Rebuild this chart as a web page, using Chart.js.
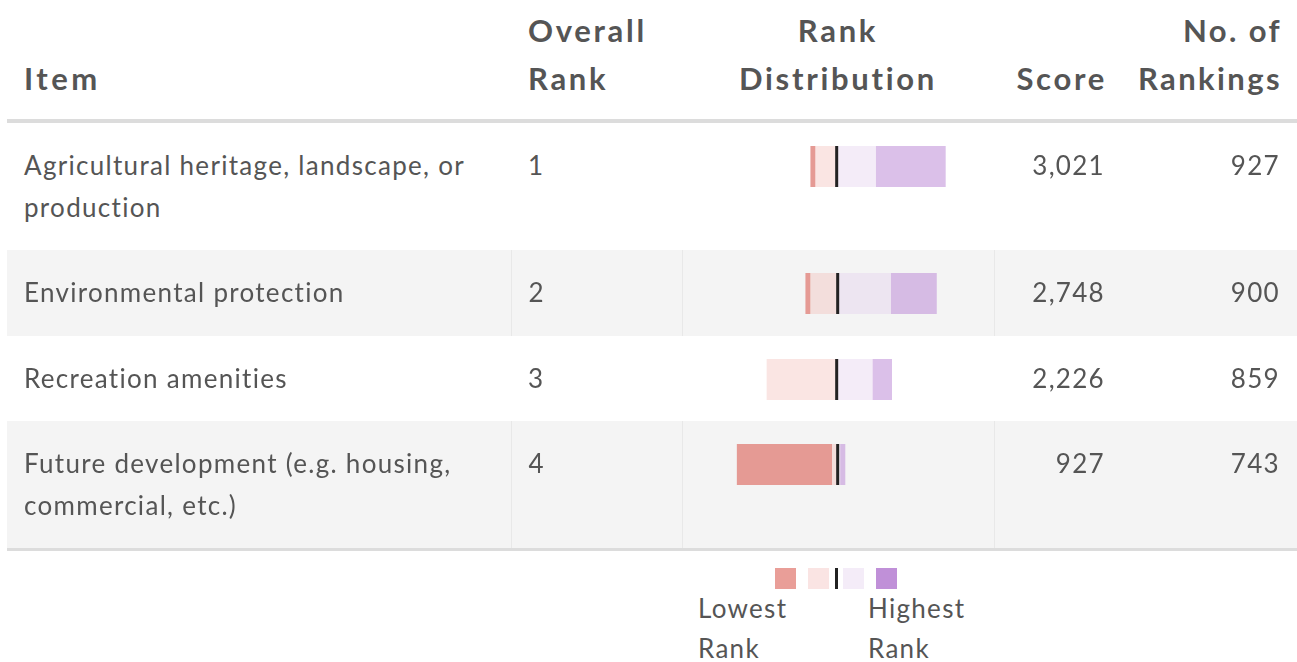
<!DOCTYPE html>
<html>
<head>
<meta charset="utf-8">
<script src="https://cdn.jsdelivr.net/npm/chart.js@4"></script>
<style>
  body { margin: 0; background: #fff; font-family: Lato, "Open Sans", sans-serif; color: #555; }
  table { position: absolute; left: 7px; top: 0; border-collapse: collapse; table-layout: fixed; width: 1290px; }
  th { font-weight: bold; font-size: 31px; line-height: 48px; letter-spacing: 2.7px; vertical-align: bottom;
       padding: 6px 17px 17px 17px; text-align: left; border-bottom: 4px solid #dcdcdc; }
  td { font-size: 26px; line-height: 41.5px; letter-spacing: 1.3px; vertical-align: top; padding: 22px 17px 22px 17px; }
  tr.alt td { background: #f4f4f4; border-left: 1px solid #e8e8e8; }
  tr.alt td:first-child, tr.alt td:last-child { border-left: none; }
  tbody tr:last-child td { border-bottom: 3px solid #dcdcdc; }
  .c { text-align: center; }
  .r { text-align: right; }
  td.dist { padding: 23px 0 0 0; }
  td.dist canvas { display: block; }
  #legend { position: absolute; left: 0; top: 568px; width: 1297px; height: 94px; }
  .sw { position: absolute; top: 0; width: 21px; height: 21px; }
  .lt { position: absolute; top: 20px; font-size: 26px; line-height: 40px; letter-spacing: 1.3px; color: #555; }
</style>
</head>
<body>
<table id="tbl">
  <colgroup>
    <col style="width:504px"><col style="width:171px"><col style="width:312px"><col style="width:127px"><col style="width:176px">
  </colgroup>
  <thead>
    <tr>
      <th style="letter-spacing:3.5px">Item</th>
      <th>Overall<br>Rank</th>
      <th class="c">Rank<br>Distribution</th>
      <th class="r" style="padding-right:14px">Score</th>
      <th class="r" style="padding-right:15px;letter-spacing:2.4px">No. of<br>Rankings</th>
    </tr>
  </thead>
  <tbody id="rows"></tbody>
</table>
<div id="legend">
  <div class="sw" style="left:775px;background:#e99e98"></div>
  <div class="sw" style="left:808px;background:#fae4e3"></div>
  <div class="sw" style="left:835px;width:3px;background:#222"></div>
  <div class="sw" style="left:843px;background:#f4ecf8"></div>
  <div class="sw" style="left:876px;background:#c090d8"></div>
  <div class="lt" style="left:698px">Lowest<br>Rank</div>
  <div class="lt" style="left:868px">Highest<br>Rank</div>
</div>
<script>
const items = [
  'Agricultural heritage, landscape, or production',
  'Environmental protection',
  'Recreation amenities',
  'Future development (e.g. housing, commercial, etc.)'
];
const overallRank = [1, 2, 3, 4];
const scores = [3021, 2748, 2226, 927];
const numRankings = [927, 900, 859, 743];

// counts per rank position (lowest -> highest)
const lowestCounts = [34, 34, 0, 652];
const thirdCounts = [146, 187, 480, 39];
const secondCounts = [269, 365, 246, 17];
const highestCounts = [478, 314, 133, 35];

const xMin = -1060;
const xMax = 1078;

const centerLine = {
  id: 'centerLine',
  afterDatasetsDraw(chart) {
    const x = chart.scales.x.getPixelForValue(0);
    const area = chart.chartArea;
    const ctx = chart.ctx;
    ctx.save();
    ctx.fillStyle = '#222';
    ctx.fillRect(x - 1.5, area.top, 3, area.bottom - area.top);
    ctx.restore();
  }
};

const tbody = document.getElementById('rows');
items.forEach((item, i) => {
  const tr = document.createElement('tr');
  if (i % 2 === 1) tr.className = 'alt';
  tr.innerHTML =
    '<td>' + item + '</td>' +
    '<td>' + overallRank[i] + '</td>' +
    '<td class="dist"><canvas width="312" height="41"></canvas></td>' +
    '<td class="r" style="padding-right:16px">' + scores[i].toLocaleString('en-US') + '</td>' +
    '<td class="r">' + numRankings[i] + '</td>';
  tbody.appendChild(tr);

  const canvas = tr.querySelector('canvas');
  new Chart(canvas, {
    type: 'bar',
    data: {
      labels: [item],
      datasets: [
        { label: 'Rank 3', data: [-thirdCounts[i]], backgroundColor: 'rgba(240,180,175,0.35)' },
        { label: 'Lowest Rank', data: [-lowestCounts[i]], backgroundColor: '#e59a94' },
        { label: 'Rank 2', data: [secondCounts[i]], backgroundColor: 'rgba(224,201,235,0.35)' },
        { label: 'Highest Rank', data: [highestCounts[i]], backgroundColor: 'rgba(192,144,216,0.57)' }
      ]
    },
    options: {
      indexAxis: 'y',
      responsive: false,
      animation: false,
      events: [],
      layout: { padding: 0 },
      datasets: {
        bar: { barPercentage: 1, categoryPercentage: 1, borderWidth: 0, inflateAmount: 0 }
      },
      scales: {
        x: { stacked: true, min: xMin, max: xMax, display: false },
        y: { stacked: true, display: false }
      },
      plugins: {
        legend: { display: false },
        tooltip: { enabled: false }
      }
    },
    plugins: [centerLine]
  });
});
</script>
</body>
</html>
